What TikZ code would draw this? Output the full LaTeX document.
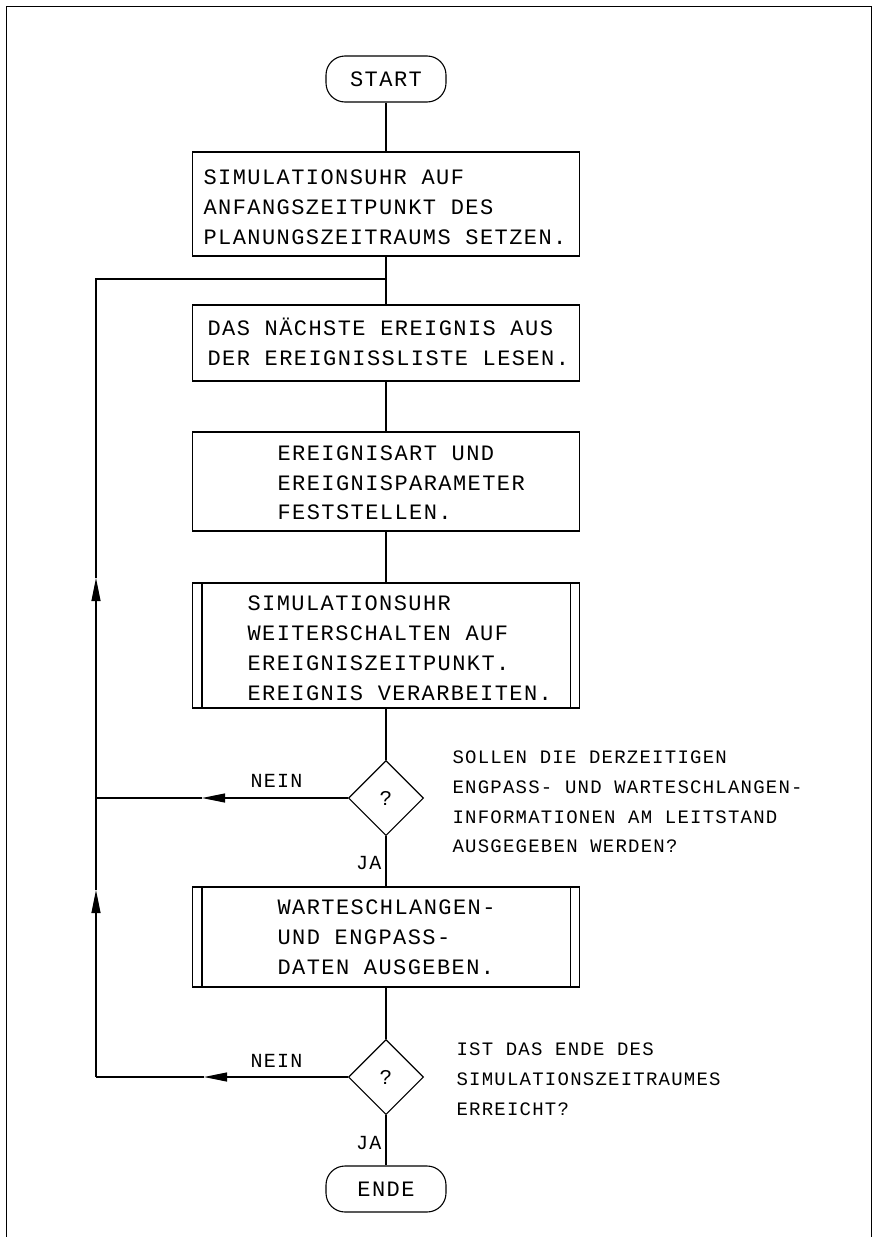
\documentclass[tikz,border=0pt]{standalone}
\usepackage{fontspec}
\newfontfamily\plotfont[LetterSpace=6.5]{Liberation Mono}
\usetikzlibrary{shapes.geometric,arrows.meta}
\begin{document}
\begin{tikzpicture}[x=1pt,y=-1pt,line width=1.1pt,
  box/.style={draw,minimum width=387pt,inner sep=0pt},
  txt/.style={anchor=base west,inner sep=0pt,font=\plotfont\fontsize{22}{26}\selectfont},
  qtxt/.style={anchor=base west,inner sep=0pt,font=\plotfont\fontsize{19}{23}\selectfont},
  lbl/.style={inner sep=0pt,font=\plotfont\fontsize{20}{24}\selectfont},
  term/.style={draw,rounded corners=19pt,minimum width=120pt,minimum height=46pt,inner sep=0pt,font=\plotfont\fontsize{22}{26}\selectfont},
  dec/.style={draw,diamond,minimum width=75pt,minimum height=75pt,inner sep=0pt,font=\plotfont\fontsize{21}{24}\selectfont},
  arr/.style={-{Triangle[length=23pt,width=9pt]}}
]
\useasboundingbox (0,0) rectangle (876,1237);
% frame
\draw[line width=1pt] (6,1237) -- (6,6) -- (871,6) -- (871,1237);

% terminals
\node[term] (start) at (386,79) {START};
\node[term] (ende) at (386,1189) {ENDE};

% boxes
\node[box,minimum height=104pt] (b1) at (386,204) {};
\node[box,minimum height=76pt] (b2) at (386,343) {};
\node[box,minimum height=99pt] (b3) at (386,481.5) {};
\node[box,minimum height=125pt] (b4) at (386,645.5) {};
\node[box,minimum height=100pt] (b5) at (386,937) {};
\draw ([xshift=10pt]b4.north west) -- ([xshift=10pt]b4.south west);
\draw ([xshift=-10pt]b4.north east) -- ([xshift=-10pt]b4.south east);
\draw ([xshift=10pt]b5.north west) -- ([xshift=10pt]b5.south west);
\draw ([xshift=-10pt]b5.north east) -- ([xshift=-10pt]b5.south east);

% decisions
\node[dec] (d1) at (386,798) {?};
\node[dec] (d2) at (386,1077) {?};

% box texts
\node[txt] (t11) at (203,184) {SIMULATIONSUHR AUF};
\node[txt] (t12) at (203,214) {ANFANGSZEITPUNKT DES};
\node[txt] (t13) at (203,244) {PLANUNGSZEITRAUMS SETZEN.};
\node[txt] (t21) at (207,335) {DAS NÄCHSTE EREIGNIS AUS};
\node[txt] (t22) at (207,365) {DER EREIGNISSLISTE LESEN.};
\node[txt] (t31) at (277,460) {EREIGNISART UND};
\node[txt] (t32) at (277,490) {EREIGNISPARAMETER};
\node[txt] (t33) at (277,519) {FESTSTELLEN.};
\node[txt] (t41) at (247,610) {SIMULATIONSUHR};
\node[txt] (t42) at (247,640) {WEITERSCHALTEN AUF};
\node[txt] (t43) at (247,670) {EREIGNISZEITPUNKT.};
\node[txt] (t44) at (247,700) {EREIGNIS VERARBEITEN.};
\node[txt] (t51) at (277,914) {WARTESCHLANGEN-};
\node[txt] (t52) at (277,944) {UND ENGPASS-};
\node[txt] (t53) at (277,974) {DATEN AUSGEBEN.};

% question texts
\node[qtxt] (q11) at (452,763) {SOLLEN DIE DERZEITIGEN};
\node[qtxt] (q12) at (452,793) {ENGPASS- UND WARTESCHLANGEN-};
\node[qtxt] (q13) at (452,823) {INFORMATIONEN AM LEITSTAND};
\node[qtxt] (q14) at (452,852) {AUSGEGEBEN WERDEN?};
\node[qtxt] (q21) at (456,1055) {IST DAS ENDE DES};
\node[qtxt] (q22) at (456,1085) {SIMULATIONSZEITRAUMES};
\node[qtxt] (q23) at (456,1115) {ERREICHT?};

% labels
\node[lbl,anchor=base west] (n1) at (250,787) {NEIN};
\node[lbl,anchor=base west] (n2) at (250,1067) {NEIN};
\node[lbl,anchor=base east] (ja1) at (382,869) {JA};
\node[lbl,anchor=base east] (ja2) at (382,1149) {JA};

% coordinates
\coordinate (j0) at (386,279);
\coordinate (lt) at (96,279);
\coordinate (l1) at (96,798);
\coordinate (l2) at (96,1077);
\coordinate (c1) at (202,798);
\coordinate (c2) at (204,1077);
\coordinate (u1) at (96,578);
\coordinate (u2) at (96,890);

% main flow
\draw (start.south) -- (b1.north);
\draw (b1.south) -- (b2.north);
\draw (b2.south) -- (b3.north);
\draw (b3.south) -- (b4.north);
\draw (b4.south) -- (d1.north);
\draw (d1.south) -- (b5.north);
\draw (b5.south) -- (d2.north);
\draw (d2.south) -- (ende.north);

% loops
\draw[arr] (d1.west) -- (c1);
\draw (c1) -- (l1);
\draw[arr] (d2.west) -- (c2);
\draw (c2) -- (l2);
\draw[arr] (l2) -- (u2);
\draw (u2) -- (l1);
\draw[arr] (l1) -- (u1);
\draw (u1) -- (lt) -- (j0);
\end{tikzpicture}
\end{document}
